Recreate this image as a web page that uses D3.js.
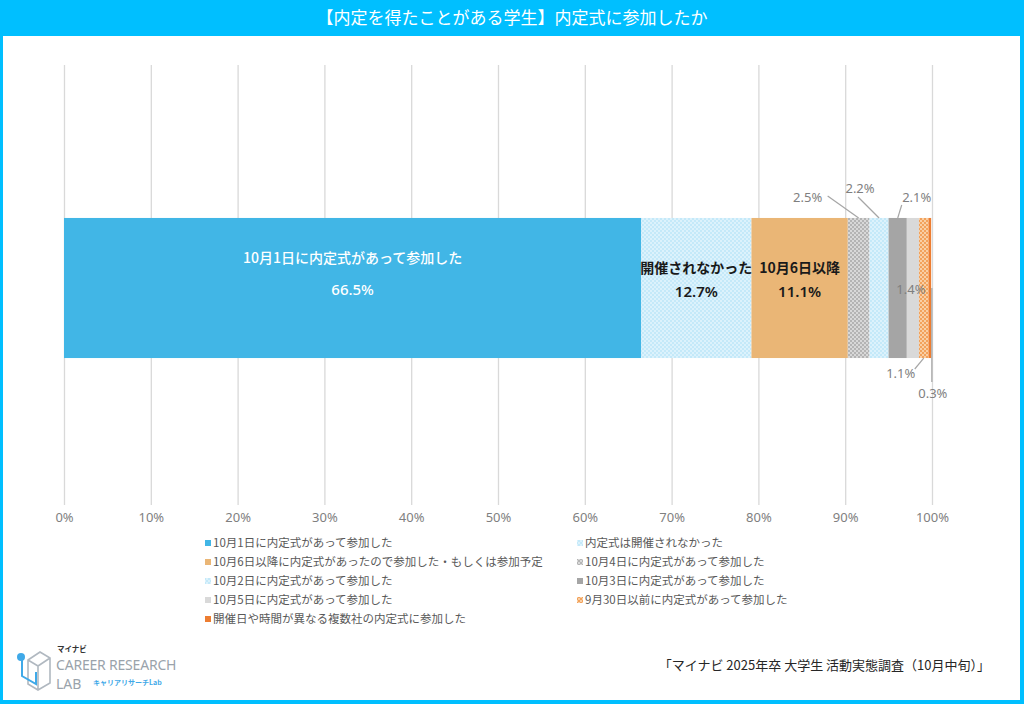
<!DOCTYPE html>
<html lang="ja">
<head>
<meta charset="UTF-8">
<title>内定式に参加したか</title>
<script src="https://d3js.org/d3.v7.min.js"></script>
<style>
  body {margin:0;background:#fff;font-family:"Noto Sans CJK JP","Noto Sans",sans-serif;}
  .tick text {font-family:"Noto Sans","Noto Sans CJK JP",sans-serif;font-size:13px;fill:#7f7f7f;}
  .legend text {font-size:11.5px;fill:#595959;}
  .callout {font-family:"Noto Sans",sans-serif;font-size:13px;fill:#7f7f7f;}
</style>
</head>
<body>
<div id="chart"></div>
<script>
// data
const categories = [
  "10月1日に内定式があって参加した",
  "内定式は開催されなかった",
  "10月6日以降に内定式があったので参加した・もしくは参加予定",
  "10月4日に内定式があって参加した",
  "10月2日に内定式があって参加した",
  "10月3日に内定式があって参加した",
  "10月5日に内定式があって参加した",
  "9月30日以前に内定式があって参加した",
  "開催日や時間が異なる複数社の内定式に参加した"
];
const values = [66.5, 12.7, 11.1, 2.5, 2.2, 2.1, 1.4, 1.1, 0.3];
const innerLabels = ["10月1日に内定式があって参加した", "開催されなかった", "10月6日以降"];
const xTicks = [0, 10, 20, 30, 40, 50, 60, 70, 80, 90, 100];
const title = "【内定を得たことがある学生】内定式に参加したか";
const source = "「マイナビ 2025年卒 大学生 活動実態調査（10月中旬）」";

const fills = ["#41b6e6", "url(#pBlue)", "#eab676", "url(#pGray)", "url(#pBlue)",
               "#a5a5a5", "#d9d9d9", "url(#pOrange)", "#ed7d31"];

const W = 1024, H = 704;
const svg = d3.select("#chart").append("svg").attr("width", W).attr("height", H);

// patterns
const defs = svg.append("defs");
function pattern(id, bg, fg) {
  const p = defs.append("pattern").attr("id", id).attr("width", 4).attr("height", 4)
    .attr("patternUnits", "userSpaceOnUse");
  p.append("rect").attr("width", 4).attr("height", 4).attr("fill", bg);
  p.append("rect").attr("x", 0).attr("y", 0).attr("width", 2).attr("height", 2).attr("fill", fg);
  p.append("rect").attr("x", 2).attr("y", 2).attr("width", 2).attr("height", 2).attr("fill", fg);
}
pattern("pBlue", "#c4e9f9", "#dcf2fc");
pattern("pGray", "#b4b4b4", "#d8d8d8");
pattern("pOrange", "#f2a25c", "#f9cfa5");

// frame
svg.append("rect").attr("width", W).attr("height", H).attr("fill", "#00bfff");
svg.append("rect").attr("x", 3).attr("y", 36).attr("width", 1017).attr("height", 664).attr("fill", "#fff");
svg.append("text").attr("x", W / 2).attr("y", 24).attr("text-anchor", "middle")
  .attr("fill", "#fff").attr("font-size", 17).text(title);

// scales
const x = d3.scaleLinear().domain([0, 100]).range([64, 932]);
const y = d3.scaleBand().domain(["all"]).range([65, 511]).padding(0.522);

// grid + axis
svg.append("g").attr("transform", "translate(0,505)")
  .call(d3.axisBottom(x).tickValues(xTicks).tickSize(-440).tickFormat(d => d + "%"))
  .call(g => g.select(".domain").remove())
  .call(g => g.selectAll(".tick line").attr("stroke", "#d9d9d9").attr("stroke-width", 1.3))
  .call(g => g.selectAll(".tick text").attr("dy", "1.1em"));

// stacked segments
let acc = 0;
const segs = values.map((v, i) => { const s = {i, v, x0: acc, x1: acc + v}; acc += v; return s; });
const y0 = y("all"), bh = y.bandwidth(), yc = y0 + bh / 2;

svg.append("g").selectAll("rect").data(segs).join("rect")
  .attr("x", d => x(d.x0)).attr("y", y0)
  .attr("width", d => x(d.x1) - x(d.x0)).attr("height", bh)
  .attr("fill", d => fills[d.i]);

// inside labels
const inner = svg.append("g").attr("font-size", 14).attr("text-anchor", "middle");
segs.slice(0, 3).forEach((d, i) => {
  const cx = (x(d.x0) + x(d.x1)) / 2;
  const col = i === 0 ? "#fff" : "#1a1a1a";
  inner.append("text").attr("x", cx).attr("y", i === 0 ? yc - 25 : yc - 15)
    .attr("fill", col).attr("font-weight", i === 0 ? 500 : 700).text(innerLabels[i]);
  inner.append("text").attr("x", cx).attr("y", i === 0 ? yc + 7 : yc + 9)
    .attr("fill", col).attr("font-weight", i === 0 ? 500 : 600).attr("font-size", 15)
    .attr("font-family", "'Noto Sans',sans-serif").text(d.v.toFixed(1) + "%");
});

// callouts for small segments (label and leader-line placement relative to segment centre)
const callouts = [
  {i: 3, lx: -51, ly: 197, sx: -31, sy: 196, top: true},
  {i: 4, lx: -19, ly: 188, sx: -21, sy: 197, top: true},
  {i: 5, lx: 19, ly: 197, sx: 4, sy: 205, top: true},
  {i: 6, lx: -2, ly: 289, sx: null},
  {i: 7, lx: -23, ly: 373, sx: -9, sy: 369, top: false},
  {i: 8, lx: 3, ly: 393, sx: 2, sy: 382, top: false, vertical: true}
];
const cg = svg.append("g");
callouts.forEach(c => {
  const d = segs[c.i];
  const cx = (x(d.x0) + x(d.x1)) / 2;
  if (c.sx !== null) {
    let ex = cx, ey = c.top ? y0 : y0 + bh;
    if (c.vertical) { ex = cx + c.sx; ey = yc; }
    cg.append("line").attr("x1", cx + c.sx).attr("y1", c.sy).attr("x2", ex).attr("y2", ey)
      .attr("stroke", "#a6a6a6").attr("stroke-width", 1.2);
  }
  cg.append("text").attr("class", "callout").attr("x", cx + c.lx).attr("y", c.ly)
    .attr("text-anchor", "middle").attr("dy", "0.35em").text(d.v.toFixed(1) + "%");
});

// legend
const leg = svg.append("g").attr("class", "legend");
categories.forEach((c, i) => {
  const col = i % 2, row = Math.floor(i / 2);
  const lx = col === 0 ? 205 : 577, ly = 543 + row * 19;
  leg.append("rect").attr("x", lx).attr("y", ly - 3).attr("width", 6).attr("height", 6).attr("fill", fills[i]);
  leg.append("text").attr("x", lx + 8).attr("y", ly).attr("dy", "0.36em").text(c);
});

// source
svg.append("text").attr("x", 990).attr("y", 665).attr("text-anchor", "end")
  .attr("font-size", 13).attr("fill", "#262626").attr("dy", "0.35em").text(source);

// logo
const logo = svg.append("g");
logo.append("path").attr("d", "M28,660 L40,652 L50,658 L50,683 L38,690 L28,684 Z M38,666 L50,658 M38,666 L38,690 M38,666 L28,660")
  .attr("fill", "none").attr("stroke", "#b0b8c0").attr("stroke-width", 1.6);
logo.append("path").attr("d", "M22,660 L22,676 L36,684 L36,672")
  .attr("fill", "none").attr("stroke", "#3fa9e8").attr("stroke-width", 2);
logo.append("circle").attr("cx", 21).attr("cy", 657).attr("r", 4).attr("fill", "#3fa9e8");
logo.append("text").attr("x", 57).attr("y", 652).attr("font-size", 7.5).attr("font-weight", 700)
  .attr("fill", "#333").text("マイナビ");
logo.append("text").attr("x", 56).attr("y", 670).attr("font-size", 14).attr("fill", "#9aa3ab")
  .attr("font-family", "'Noto Sans',sans-serif").attr("letter-spacing", -0.2).text("CAREER RESEARCH");
logo.append("text").attr("x", 56).attr("y", 689).attr("font-size", 14).attr("fill", "#9aa3ab")
  .attr("font-family", "'Noto Sans',sans-serif").text("LAB");
logo.append("text").attr("x", 93).attr("y", 685).attr("font-size", 7).attr("font-weight", 700)
  .attr("fill", "#3fa9e8").text("キャリアリサーチLab");
</script>
</body>
</html>
